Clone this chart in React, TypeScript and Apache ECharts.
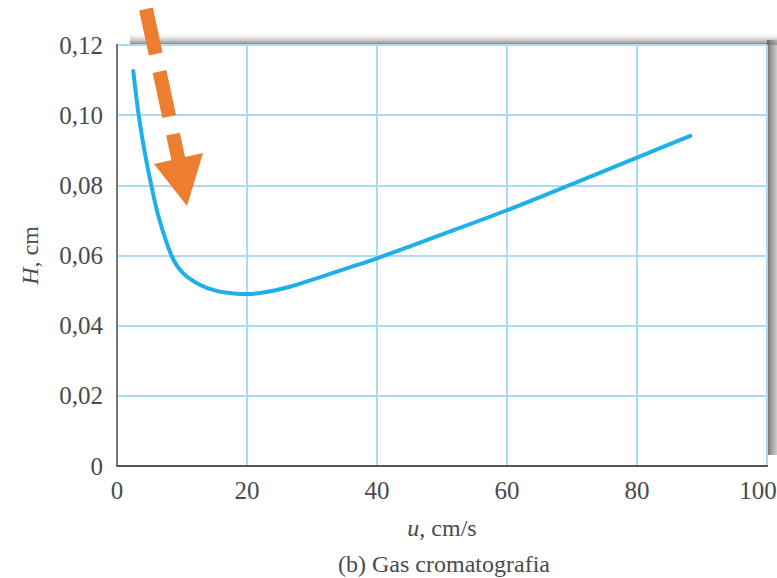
import React, { useEffect, useRef } from "react";
import * as echarts from "echarts";

const uValues = [2.5, 3.3, 4.3, 5.3, 6.4, 8.4, 10.2, 12.8, 15.3, 17.9, 20.1, 23, 26.6, 30.7, 35.8, 40, 49.7, 60, 70.2, 80, 88.2];
const hValues = [0.1126, 0.1005, 0.0891, 0.0798, 0.071, 0.0599, 0.0549, 0.0516, 0.0499, 0.0492, 0.049, 0.0496, 0.0511, 0.0535, 0.0566, 0.0592, 0.0658, 0.0729, 0.0805, 0.0879, 0.0941];
const xTicks = [0, 20, 40, 60, 80, 100];
const yTicks = ["0", "0,02", "0,04", "0,06", "0,08", "0,10", "0,12"];
const xName = "u";
const xUnit = ", cm/s";
const yName = "H";
const yUnit = ", cm";
const caption = "(b) Gas cromatografia";

export default function App() {
  const ref = useRef<HTMLDivElement>(null);
  useEffect(() => {
    if (!ref.current) return;
    const chart = echarts.init(ref.current, null, { renderer: "svg" });
    const font = "'Liberation Serif', 'Times New Roman', serif";
    const textColor = "#4a4a4a";
    const xMax = xTicks[xTicks.length - 1];
    chart.setOption({
      animation: false,
      backgroundColor: "#ffffff",
      grid: {
        left: 117,
        top: 45,
        right: 10,
        bottom: 112,
        outerBoundsMode: "none",
        containLabel: false,
        show: true,
        borderColor: "#666",
        borderWidth: 2,
        backgroundColor: "#ffffff",
      },
      xAxis: {
        type: "value",
        min: xTicks[0],
        max: xMax,
        interval: 20,
        name: `{i|${xName}}${xUnit}`,
        nameLocation: "middle",
        nameGap: 50,
        nameTextStyle: {
          fontFamily: font,
          fontSize: 24,
          color: textColor,
          rich: { i: { fontFamily: font, fontSize: 24, fontStyle: "italic", color: textColor } },
        },
        axisLine: { show: true, lineStyle: { color: "#555", width: 2 } },
        axisTick: { show: false },
        axisLabel: {
          fontFamily: font,
          fontSize: 25,
          color: textColor,
          margin: 12,
          showMaxLabel: true,
          formatter: (v: number) => (v === xMax ? `{m|${v}}` : `${v}`),
          rich: { m: { fontFamily: font, fontSize: 25, color: textColor, padding: [0, 18, 0, 0] } },
        },
        splitLine: { show: true, lineStyle: { color: "#a9dcf4", width: 2 } },
      },
      yAxis: {
        type: "value",
        min: 0,
        max: 0.12,
        interval: 0.02,
        name: `{i|${yName}}${yUnit}`,
        nameLocation: "middle",
        nameRotate: 90,
        nameGap: 75,
        nameTextStyle: {
          fontFamily: font,
          fontSize: 24,
          color: textColor,
          rich: { i: { fontFamily: font, fontSize: 24, fontStyle: "italic", color: textColor } },
        },
        axisLine: { show: true, lineStyle: { color: "#777", width: 2 } },
        axisTick: { show: false },
        axisLabel: {
          fontFamily: font,
          fontSize: 25,
          color: textColor,
          margin: 14,
          formatter: (v: number) => yTicks[Math.round(v / 0.02)] ?? "",
        },
        splitLine: { show: true, lineStyle: { color: "#a9dcf4", width: 2 } },
      },
      series: [
        {
          type: "line",
          data: uValues.map((u, i) => [u, hValues[i]]),
          smooth: 0.3,
          showSymbol: false,
          lineStyle: { color: "#1fb0e8", width: 4, cap: "round" },
          z: 5,
        },
      ],
      graphic: [
        {
          type: "rect",
          shape: { x: 130, y: 32, width: 647, height: 13 },
          style: {
            fill: new echarts.graphic.LinearGradient(0, 0, 0, 1, [
              { offset: 0, color: "rgba(255,255,255,0)" },
              { offset: 1, color: "rgba(110,110,110,0.95)" },
            ]),
          },
          z: -1,
        },
        {
          type: "rect",
          shape: { x: 767, y: 40, width: 10, height: 415 },
          style: {
            fill: new echarts.graphic.LinearGradient(0, 0, 1, 0, [
              { offset: 0, color: "rgba(100,100,100,0.95)" },
              { offset: 1, color: "rgba(170,170,170,0.6)" },
            ]),
          },
          z: -1,
        },
        {
          type: "line",
          shape: { x1: 146, y1: 9, x2: 179, y2: 162 },
          style: { stroke: "#ed7d31", lineWidth: 14, lineDash: [46, 18], lineCap: "butt" },
          z: 100,
        },
        {
          type: "polygon",
          shape: { points: [[154, 164], [203, 153], [187, 206]] },
          style: { fill: "#ed7d31" },
          z: 100,
        },
        {
          type: "text",
          x: 444,
          y: 564,
          style: {
            text: caption,
            font: `24px ${font}`,
            fill: textColor,
            textAlign: "center",
            textVerticalAlign: "middle",
          },
          z: 100,
        },
      ],
    });
    return () => chart.dispose();
  }, []);
  return (
    <div
      ref={ref}
      style={{ position: "fixed", left: 0, top: 0, width: 777, height: 578 }}
    />
  );
}
